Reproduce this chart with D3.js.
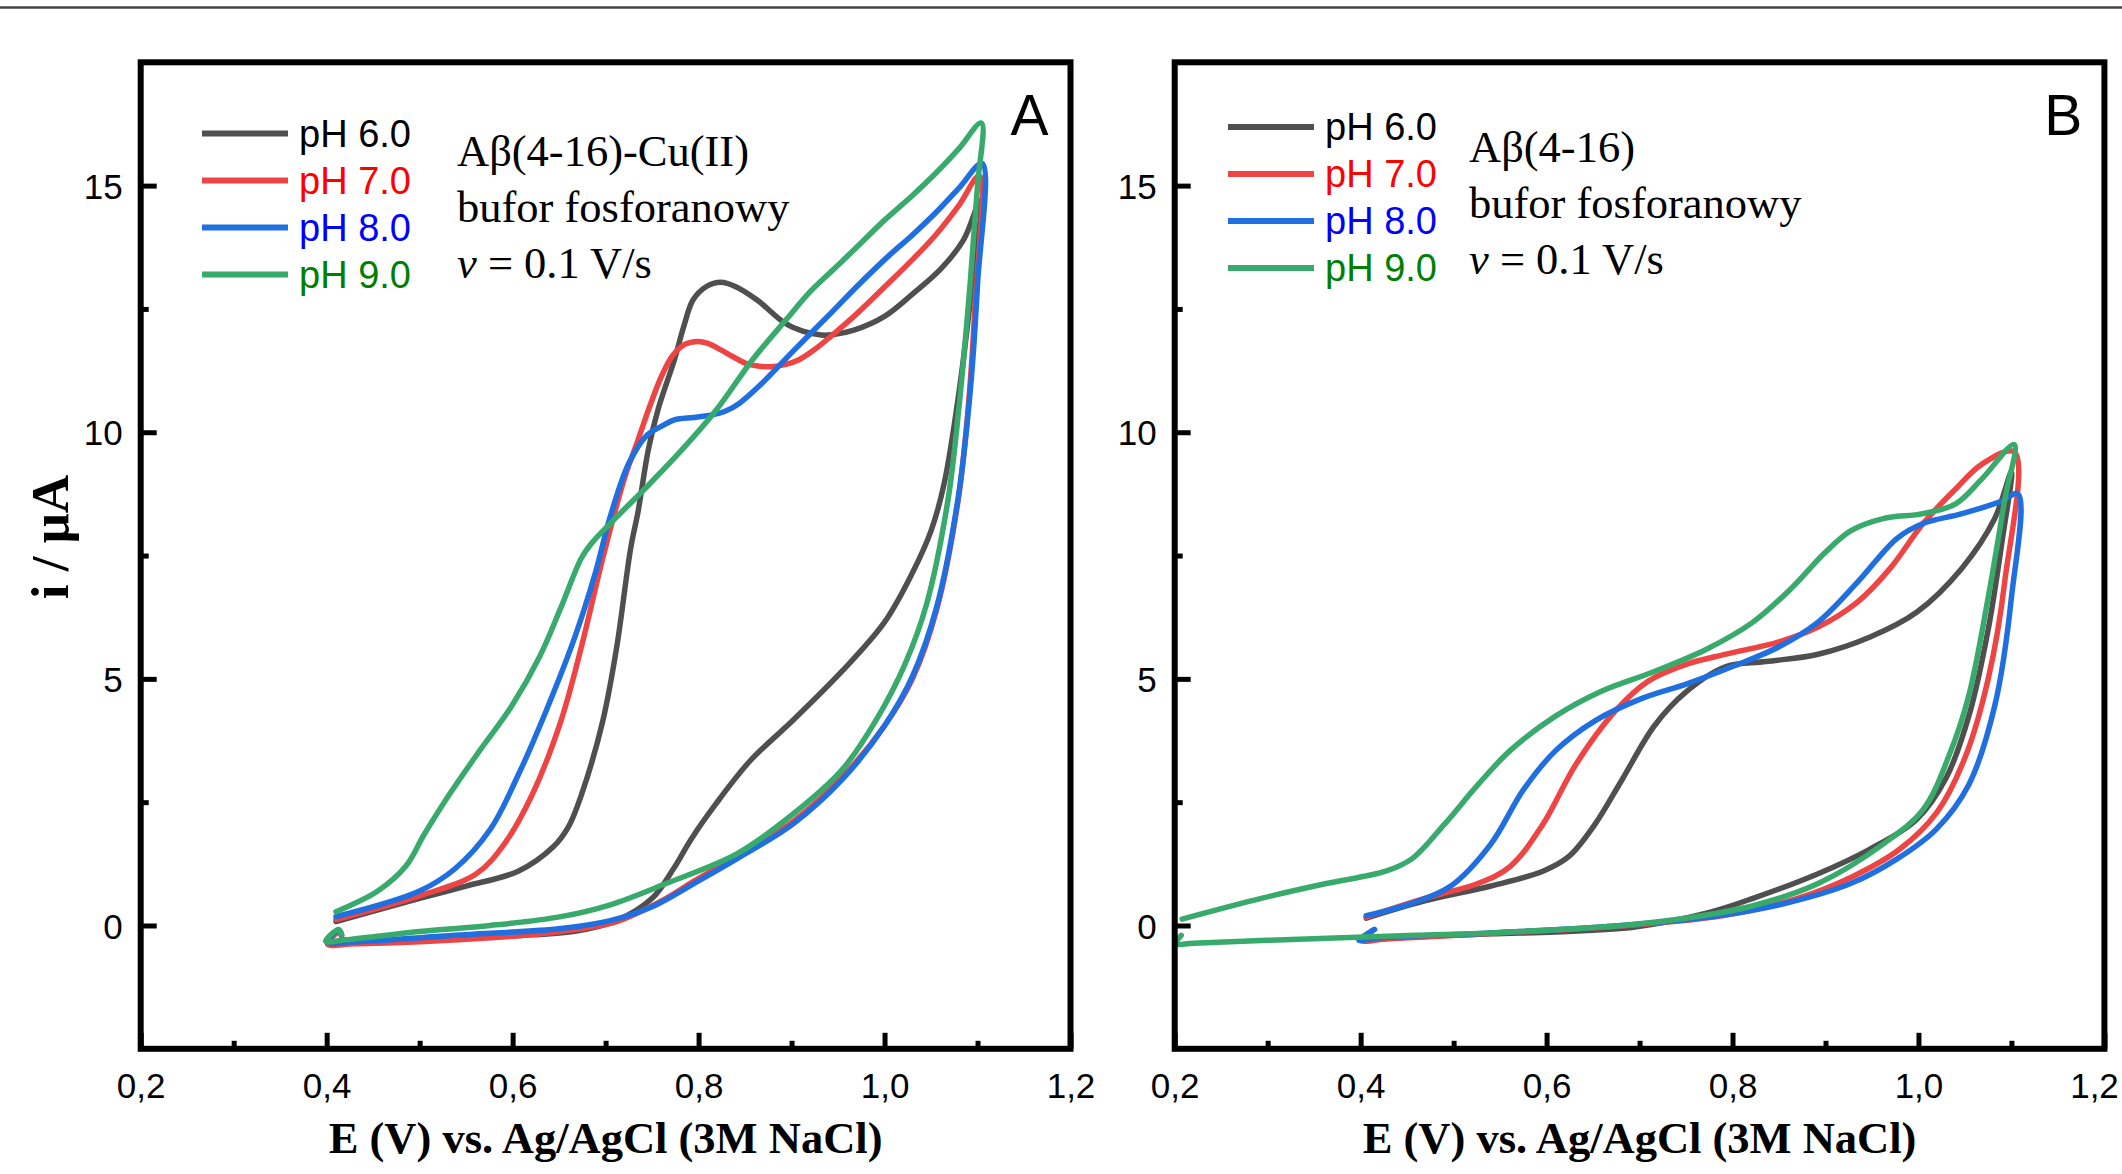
<!DOCTYPE html>
<html>
<head>
<meta charset="utf-8">
<script src="https://cdn.jsdelivr.net/npm/d3@7"></script>
<style>
  body { margin: 0; background: #fff; }
  svg { display: block; }
  .tick text { font-family: "Liberation Sans", Arial, sans-serif; font-size: 35px; fill: #000; }
  .tick line { stroke: #000; stroke-width: 5; }
  .legend-text { font-family: "Liberation Sans", Arial, sans-serif; font-size: 38px; }
  .panel-letter { font-family: "Liberation Sans", Arial, sans-serif; font-size: 57px; }
  .note { font-family: "Liberation Serif", "Times New Roman", serif; font-size: 44.5px; }
  .axis-title { font-family: "Liberation Serif", "Times New Roman", serif; font-weight: bold; }
</style>
</head>
<body>
<svg id="chart" width="2122" height="1174"></svg>
<script>
// axis ticks
const potentialTicks = [0.2, 0.4, 0.6, 0.8, 1.0, 1.2];
const potentialMinor = [0.3, 0.5, 0.7, 0.9, 1.1];
const currentTicks = [0, 5, 10, 15];
const currentMinor = [2.5, 7.5, 12.5];

const seriesNames = ["pH 6.0", "pH 7.0", "pH 8.0", "pH 9.0"];
const lineColors = ["#4f4f4f", "#ef4444", "#1f6fe0", "#38aa6c"];
const textColors = ["#000000", "#ff0000", "#0000ff", "#008000"];

// panel A: Aβ(4-16)-Cu(II), [E (V), i (µA)] in scan order
const aPh6 = [[0.416,-0.2],[0.413,-0.12],[0.401,-0.36],[0.43,-0.35],[0.5,-0.31],[0.576,-0.24],[0.62,-0.19],[0.667,-0.12],[0.712,0.1],[0.75,0.55],[0.773,1.15],[0.792,1.75],[0.818,2.45],[0.856,3.35],[0.901,4.15],[0.954,5.15],[1.0,6.15],[1.03,7.15],[1.05,8.0],[1.064,8.95],[1.08,10.8],[1.093,12.8],[1.103,14.7],
  [1.085,13.9],[1.06,13.3],[1.03,12.8],[1.0,12.35],[0.967,12.07],[0.945,11.98],[0.932,11.97],[0.912,12.05],[0.893,12.21],[0.863,12.68],[0.84,12.95],[0.824,13.04],[0.808,12.95],[0.794,12.68],[0.784,12.14],[0.774,11.47],[0.757,10.5],[0.746,9.65],[0.735,8.4],[0.727,7.65],[0.712,5.65],[0.697,4.15],[0.674,2.65],[0.66,2.0],[0.644,1.6],[0.606,1.1],[0.55,0.8],[0.5,0.55],[0.41,0.08]];
const aPh7 = [[0.416,-0.22],[0.413,-0.14],[0.401,-0.38],[0.43,-0.37],[0.5,-0.33],[0.576,-0.25],[0.652,-0.12],[0.712,0.08],[0.765,0.55],[0.795,0.9],[0.841,1.4],[0.901,2.1],[0.954,3.0],[1.0,4.05],[1.03,5.0],[1.056,6.4],[1.079,8.6],[1.09,10.5],[1.097,12.5],[1.102,15.2],
  [1.08,14.6],[1.055,14.0],[1.03,13.5],[1.003,13.0],[0.97,12.4],[0.942,11.94],[0.925,11.68],[0.908,11.47],[0.893,11.37],[0.878,11.33],[0.865,11.34],[0.853,11.38],[0.838,11.52],[0.824,11.67],[0.81,11.8],[0.799,11.84],[0.785,11.78],[0.772,11.55],[0.76,11.13],[0.747,10.5],[0.735,9.85],[0.72,9.05],[0.697,7.45],[0.674,5.65],[0.652,4.15],[0.621,2.65],[0.591,1.65],[0.561,1.05],[0.5,0.6],[0.41,0.12]];
const aPh8 = [[0.416,-0.18],[0.413,-0.1],[0.401,-0.34],[0.43,-0.33],[0.538,-0.2],[0.652,-0.06],[0.705,0.1],[0.75,0.38],[0.795,0.85],[0.841,1.35],[0.901,2.05],[0.954,2.95],[1.0,4.05],[1.03,5.05],[1.056,6.45],[1.079,8.65],[1.092,10.8],[1.1,13.0],[1.105,15.45],
  [1.08,14.95],[1.055,14.45],[1.03,14.0],[1.003,13.55],[0.97,12.95],[0.942,12.41],[0.903,11.67],[0.868,10.99],[0.844,10.59],[0.828,10.42],[0.814,10.35],[0.795,10.3],[0.774,10.25],[0.76,10.12],[0.745,9.95],[0.725,9.37],[0.705,8.29],[0.689,7.15],[0.667,5.85],[0.636,4.35],[0.606,3.05],[0.576,1.95],[0.538,1.15],[0.5,0.7],[0.41,0.18]];
const aPh9 = [[0.416,-0.18],[0.413,-0.08],[0.399,-0.32],[0.42,-0.29],[0.5,-0.12],[0.576,0.0],[0.652,0.18],[0.705,0.42],[0.765,0.85],[0.841,1.45],[0.901,2.25],[0.954,3.15],[0.992,4.2],[1.022,5.3],[1.045,6.5],[1.068,8.6],[1.08,10.5],[1.092,13.0],[1.1,15.0],[1.104,16.27],
  [1.08,15.75],[1.055,15.25],[1.03,14.8],[1.0,14.3],[0.97,13.75],[0.945,13.3],[0.92,12.85],[0.895,12.3],[0.858,11.47],[0.819,10.45],[0.78,9.6],[0.742,8.85],[0.705,8.15],[0.685,7.75],[0.674,7.45],[0.652,6.45],[0.629,5.45],[0.599,4.45],[0.561,3.45],[0.53,2.6],[0.505,1.85],[0.485,1.2],[0.455,0.7],[0.41,0.28]];

// panel B: Aβ(4-16)
const bPh6 = [[0.413,-0.1],[0.401,-0.3],[0.43,-0.26],[0.54,-0.17],[0.61,-0.13],[0.695,-0.03],[0.772,0.25],[0.822,0.55],[0.892,1.05],[0.948,1.55],[0.998,2.15],[1.03,3.0],[1.055,4.3],[1.075,6.0],[1.09,7.8],[1.1,9.2],
  [1.082,8.25],[1.047,7.25],[0.998,6.35],[0.948,5.85],[0.892,5.5],[0.836,5.35],[0.793,5.25],[0.751,4.75],[0.716,4.05],[0.681,2.95],[0.652,2.05],[0.624,1.4],[0.596,1.1],[0.54,0.8],[0.469,0.5],[0.406,0.15]];
const bPh7 = [[0.413,-0.1],[0.401,-0.3],[0.43,-0.27],[0.54,-0.16],[0.681,-0.01],[0.79,0.2],[0.87,0.55],[0.93,1.0],[0.98,1.55],[1.02,2.3],[1.05,3.4],[1.075,5.0],[1.093,7.0],[1.103,9.6],
  [1.068,9.35],[1.04,8.85],[1.005,8.15],[0.97,7.25],[0.934,6.55],[0.892,6.05],[0.85,5.75],[0.793,5.5],[0.751,5.3],[0.709,4.95],[0.674,4.35],[0.631,3.25],[0.596,2.05],[0.561,1.2],[0.526,0.85],[0.469,0.55],[0.406,0.17]];
const bPh8 = [[0.415,-0.08],[0.398,-0.3],[0.42,-0.25],[0.54,-0.15],[0.681,0.0],[0.786,0.2],[0.857,0.45],[0.927,0.85],[0.977,1.35],[1.019,1.95],[1.054,2.85],[1.082,4.45],[1.1,6.65],[1.107,8.75],
  [1.089,8.6],[1.047,8.35],[1.005,8.15],[0.977,7.85],[0.934,6.95],[0.892,6.15],[0.85,5.65],[0.8,5.25],[0.751,4.9],[0.702,4.6],[0.652,4.15],[0.61,3.55],[0.575,2.75],[0.54,1.65],[0.497,0.8],[0.455,0.45],[0.406,0.2]];
const bPh9 = [[0.207,-0.2],[0.201,-0.37],[0.22,-0.36],[0.3,-0.3],[0.46,-0.2],[0.54,-0.15],[0.681,0.0],[0.751,0.15],[0.822,0.4],[0.892,0.85],[0.962,1.65],[1.005,2.35],[1.033,3.45],[1.054,4.65],[1.075,6.65],[1.093,8.65],[1.103,9.75],
  [1.068,9.05],[1.04,8.55],[1.005,8.35],[0.962,8.25],[0.927,8.0],[0.899,7.55],[0.864,6.85],[0.822,6.15],[0.772,5.6],[0.716,5.15],[0.659,4.75],[0.61,4.25],[0.561,3.55],[0.526,2.85],[0.49,2.05],[0.455,1.35],[0.427,1.1],[0.363,0.85],[0.293,0.55],[0.208,0.13]];

const panelLetters = ["A", "B"];
const sampleNames = ["Aβ(4-16)-Cu(II)", "Aβ(4-16)"];
const bufferName = "bufor fosforanowy";
const xTitle = "E (V) vs. Ag/AgCl (3M NaCl)";

const svg = d3.select("#chart");
const W = 2122;

// thin rule across the top of the page
svg.append("line")
  .attr("x1", 0).attr("x2", W)
  .attr("y1", 7.5).attr("y2", 7.5)
  .attr("stroke", "#444").attr("stroke-width", 2.5);

const commaFmt = d3.formatLocale({ decimal: ",", thousands: ".", grouping: [3], currency: ["", ""] }).format(".1f");

const panels = [
  { left: 140.7, right: 1070.5, series: [aPh6, aPh7, aPh8, aPh9], legendX: 202, legendY: 133.5, noteX: 457, noteY: 166 },
  { left: 1174.7, right: 2104.4, series: [bPh6, bPh7, bPh8, bPh9], legendX: 1228, legendY: 127, noteX: 1469, noteY: 161.5 }
];
const plotTop = 62.3, plotBottom = 1048.8;

panels.forEach((p, pi) => {
  const x = d3.scaleLinear().domain([0.2, 1.2]).range([p.left, p.right]);
  const y = d3.scaleLinear().domain([-2.5, 17.5]).range([plotBottom, plotTop]);
  const g = svg.append("g");

  // minor ticks
  g.append("g")
    .attr("transform", `translate(0,${plotBottom})`)
    .call(d3.axisBottom(x).tickValues(potentialMinor).tickSize(-8).tickSizeOuter(0).tickFormat(""))
    .call(a => a.select(".domain").remove());
  g.append("g")
    .attr("transform", `translate(${p.left},0)`)
    .call(d3.axisLeft(y).tickValues(currentMinor).tickSize(-8).tickSizeOuter(0).tickFormat(""))
    .call(a => a.select(".domain").remove());

  // major ticks
  g.append("g")
    .attr("transform", `translate(0,${plotBottom})`)
    .call(d3.axisBottom(x).tickValues(potentialTicks).tickSize(-16).tickSizeOuter(0).tickPadding(24).tickFormat(commaFmt))
    .call(a => a.select(".domain").remove())
    .call(a => a.selectAll("text")
      .attr("dx", d => (x(d) + 26 > W ? W - 2 - 26 - x(d) : 0)));
  g.append("g")
    .attr("transform", `translate(${p.left},0)`)
    .call(d3.axisLeft(y).tickValues(currentTicks).tickSize(-16).tickSizeOuter(0).tickPadding(18))
    .call(a => a.select(".domain").remove())
    .call(a => a.selectAll("text").attr("dy", "0.36em"));

  // curves
  const line = d3.line()
    .x(d => x(d[0]))
    .y(d => y(d[1]))
    .curve(d3.curveCatmullRom.alpha(0.5));

  g.selectAll(".cv")
    .data(p.series)
    .join("path")
    .attr("class", "cv")
    .attr("d", line)
    .attr("fill", "none")
    .attr("stroke", (d, i) => lineColors[i])
    .attr("stroke-width", 5.5)
    .attr("stroke-linejoin", "round")
    .attr("stroke-linecap", "round");

  // frame
  g.append("rect")
    .attr("x", p.left).attr("y", plotTop)
    .attr("width", p.right - p.left).attr("height", plotBottom - plotTop)
    .attr("fill", "none").attr("stroke", "#000").attr("stroke-width", 6);

  // legend
  const leg = g.selectAll(".leg")
    .data(seriesNames)
    .join("g")
    .attr("class", "leg")
    .attr("transform", (d, i) => `translate(${p.legendX},${p.legendY + i * 47})`);
  leg.append("line")
    .attr("x1", 0).attr("x2", 86)
    .attr("stroke", (d, i) => lineColors[i])
    .attr("stroke-width", 6);
  leg.append("text")
    .attr("class", "legend-text")
    .attr("x", 97).attr("y", 13)
    .attr("fill", (d, i) => textColors[i])
    .text(d => d);

  // notes
  const note = g.append("text").attr("class", "note");
  note.append("tspan").attr("x", p.noteX).attr("y", p.noteY).text(sampleNames[pi]);
  note.append("tspan").attr("x", p.noteX).attr("y", p.noteY + 56).text(bufferName);
  const t3 = note.append("tspan").attr("x", p.noteX).attr("y", p.noteY + 112);
  t3.append("tspan").attr("font-style", "italic").text("v");
  t3.append("tspan").text(" = 0.1 V/s");

  // panel letter
  g.append("text")
    .attr("class", "panel-letter")
    .attr("x", p.right - 22).attr("y", 135)
    .attr("text-anchor", "end")
    .text(panelLetters[pi]);

  // x title
  g.append("text")
    .attr("class", "axis-title")
    .attr("x", (p.left + p.right) / 2).attr("y", 1153)
    .attr("text-anchor", "middle")
    .attr("font-size", 44.5)
    .text(xTitle);
});

// y title
svg.append("text")
  .attr("class", "axis-title")
  .attr("transform", "translate(68,537) rotate(-90)")
  .attr("text-anchor", "middle")
  .attr("font-size", 53)
  .text("i / μA");
</script>
</body>
</html>
